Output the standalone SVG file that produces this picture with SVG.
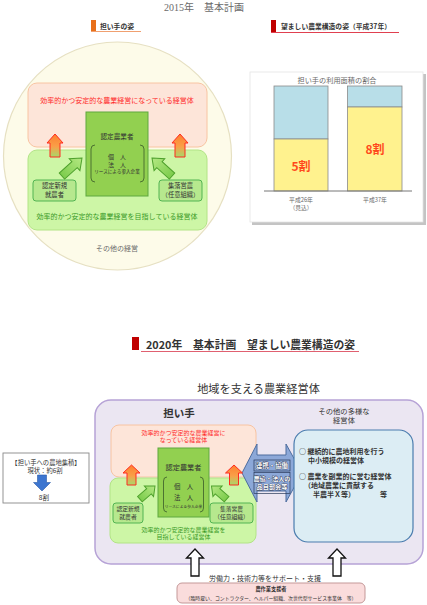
<svg xmlns="http://www.w3.org/2000/svg" width="427" height="605" viewBox="0 0 427 605">
<defs>
<linearGradient id="og" x1="0" y1="0" x2="0" y2="1"><stop offset="0" stop-color="#ff7f30"/><stop offset="0.55" stop-color="#f9a048"/><stop offset="1" stop-color="#a6da6a"/></linearGradient>
<linearGradient id="gg" x1="0" y1="0" x2="0" y2="1"><stop offset="0" stop-color="#b4e882"/><stop offset="1" stop-color="#7ccc4c"/></linearGradient>
<style>
text{font-family:"Noto Sans CJK JP","Noto Sans CJK SC",sans-serif;fill:#333}
.c{text-anchor:middle}
.b{font-weight:bold}
.red{fill:#ff2a2a}
.grn{fill:#3a9a26}
.gry{fill:#6a6a6a}
.oa{fill:url(#og);stroke:#ff2a20;stroke-width:1}
.ga{fill:url(#gg);stroke:#4ea02c;stroke-width:1}
.pink{fill:#fde5d9;stroke:#f8c4a2;stroke-width:1}
.lg{fill:#cdf6a6;stroke:#b2e486;stroke-width:1}
.dg{fill:#92d050;stroke:#5ea83e;stroke-width:1}
.sb{fill:#b6e88e;stroke:#52b452;stroke-width:1}
.br{fill:none;stroke:#3a5a2a;stroke-width:0.8}
.wa{fill:#fff;stroke:#111;stroke-width:1.3}
.ot{fill:#fff;stroke:#1f2d4d;stroke-width:0.7;paint-order:stroke}
</style>
</defs>
<rect width="427" height="605" fill="#fff"/>

<!-- ===== 2015 section ===== -->
<g id="title2015">
<text x="204" y="11" class="c gry" style="font-family:'Liberation Serif','Noto Sans CJK JP',serif;font-size:10px">2015年　基本計画</text>
</g>
<g id="label-ninaite">
<rect x="91" y="20" width="5" height="11" fill="#e8701a"/>
<line x1="91" y1="31.5" x2="141" y2="31.5" stroke="#f0a070" stroke-width="1"/>
<text x="100" y="28.5" class="b" font-size="6.8">担い手の姿</text>
</g>
<g id="label-nozomashii2015">
<rect x="271" y="20" width="5" height="12" fill="#c00000"/>
<line x1="271" y1="32.5" x2="399" y2="32.5" stroke="#e04050" stroke-width="1"/>
<text x="281" y="29" class="b" font-size="6.8">望ましい農業構造の姿（平成37年）</text>
</g>

<g id="circle-sonota">
<circle cx="117.5" cy="156" r="114" fill="#fdfbe9" stroke="#e6e0c2" stroke-width="1.2"/>
<text x="117" y="250.5" class="c gry" font-size="7">その他の経営</text>
</g>
<g id="box-efficient-top">
<rect x="28" y="83" width="179" height="64" rx="9" class="pink"/>
<text x="117" y="102.5" class="c red" font-size="7">効率的かつ安定的な農業経営になっている経営体</text>
</g>
<g id="box-aiming-top">
<rect x="28" y="150" width="179" height="80" rx="9" class="lg"/>
<text x="117" y="218.5" class="c grn" font-size="7">効率的かつ安定的な農業経営を目指している経営体</text>
</g>
<g id="node-nintei-top">
<rect x="86" y="112" width="62" height="84" class="dg"/>
<text x="117" y="138.5" class="c" font-size="6.6">認定農業者</text>
<path class="br" d="M95 145 Q91 145 91 149 L91 178 Q91 182 95 182"/>
<path class="br" d="M140 145 Q144 145 144 149 L144 178 Q144 182 140 182"/>
<text x="117" y="158.5" class="c" font-size="6">個　人</text>
<text x="117" y="166.5" class="c" font-size="6">法　人</text>
<text x="117" y="172.5" class="c" font-size="4.6">リースによる参入企業</text>
</g>
<g id="node-shinki-top">
<rect x="33" y="180" width="43" height="21" rx="3" class="sb"/>
<text x="54.5" y="188" class="c" font-size="6.3">認定新規</text>
<text x="54.5" y="196.5" class="c" font-size="6.3">就農者</text>
</g>
<g id="node-shuraku-top">
<rect x="159" y="180" width="43" height="21" rx="3" class="sb"/>
<text x="180.5" y="188" class="c" font-size="6.3">集落営農</text>
<text x="180.5" y="196.5" class="c" font-size="6.3">（任意組織）</text>
</g>

<g id="chart">
<rect x="252" y="74" width="174" height="151" fill="#c4c4c4"/>
<rect x="250" y="72" width="173" height="150" fill="#fff" stroke="#e4e4e4" stroke-width="0.8"/>
<text x="337" y="82.5" class="c gry" font-size="7.2">担い手の利用面積の割合</text>
<rect x="274" y="86" width="54" height="53" fill="#b8dee8" stroke="#8a8a8a" stroke-width="0.8"/>
<rect x="274" y="139" width="54" height="52" fill="#fff28e" stroke="#8a8a8a" stroke-width="0.8"/>
<rect x="347.5" y="86" width="54.5" height="21" fill="#b8dee8" stroke="#8a8a8a" stroke-width="0.8"/>
<rect x="347.5" y="107" width="54.5" height="84" fill="#fff28e" stroke="#8a8a8a" stroke-width="0.8"/>
<line x1="264" y1="191" x2="412" y2="191" stroke="#777" stroke-width="1"/>
<text x="301" y="171" class="c b" font-size="12" style="fill:#ff4a1c">5割</text>
<text x="375" y="153.5" class="c b" font-size="12" style="fill:#ff4a1c">8割</text>
<text x="301" y="201.5" class="c gry" font-size="5.8">平成26年</text>
<text x="301" y="210" class="c gry" font-size="5.8">（見込）</text>
<text x="375" y="201.5" class="c gry" font-size="5.8">平成37年</text>
</g>

<g id="connectors-top">
<polygon class="oa" points="55,134 63,143 60,143 60,157 50,157 50,143 47,143"/>
<polygon class="oa" points="180,134 188,143 185,143 185,157 175,157 175,143 172,143"/>
<polygon class="ga" transform="translate(82,158) rotate(48)" points="0,0 8,10 4,10 4,27 -4,27 -4,10 -8,10"/>
<polygon class="ga" transform="translate(152,158) rotate(-48)" points="0,0 8,10 4,10 4,27 -4,27 -4,10 -8,10"/>
</g>

<!-- ===== 2020 section ===== -->
<g id="title2020">
<rect x="132" y="337" width="7" height="13" fill="#c00000"/>
<line x1="141" y1="351.5" x2="359" y2="351.5" stroke="#e06070" stroke-width="1"/>
<text x="146" y="348.5" class="b" font-size="10.8">2020年　基本計画　望ましい農業構造の姿</text>
</g>
<g id="subtitle">
<text x="258.5" y="393" class="c" font-size="11.2">地域を支える農業経営体</text>
</g>

<g id="frame">
<rect x="95" y="400" width="328" height="164" rx="16" fill="#ebe6f2" stroke="#b6a2d6" stroke-width="1.5"/>
<text x="179" y="417" class="c b" font-size="10.5">担い手</text>
</g>

<g id="leftbox">
<rect x="3" y="453" width="86" height="50" fill="#fff" stroke="#888" stroke-width="0.9"/>
<text x="46" y="464.5" class="c" font-size="6.3">【担い手への農地集積】</text>
<text x="45" y="472.5" class="c" font-size="6.3">現状：約6割</text>
<polygon points="37.5,475 46.5,475 46.5,482.5 50.5,482.5 42,491 33.5,482.5 37.5,482.5" fill="#3d76d0" stroke="#2a5aa8" stroke-width="0.6"/>
<text x="44" y="499.5" class="c" font-size="6.6">8割</text>
</g>

<g id="box-efficient">
<rect x="111" y="425" width="145" height="52" rx="8" class="pink"/>
<text x="183.5" y="434.5" class="c red" font-size="6">効率的かつ安定的な農業経営に</text>
<text x="183.5" y="442" class="c red" font-size="6">なっている経営体</text>
</g>
<g id="box-aiming">
<rect x="110" y="478" width="146" height="65" rx="8" class="lg"/>
<text x="183.5" y="531.5" class="c grn" font-size="6">効率的かつ安定的な農業経営を</text>
<text x="183.5" y="539" class="c grn" font-size="6">目指している経営体</text>
</g>
<g id="node-nintei">
<rect x="158" y="448" width="51" height="69" class="dg"/>
<text x="183.5" y="469.5" class="c" font-size="7.2">認定農業者</text>
<path class="br" d="M167 477 Q163.5 477 163.5 481 L163.5 508 Q163.5 512 167 512"/>
<path class="br" d="M200 477 Q203.5 477 203.5 481 L203.5 508 Q203.5 512 200 512"/>
<text x="183.5" y="489" class="c" font-size="6.4">個　人</text>
<text x="183.5" y="500" class="c" font-size="6.4">法　人</text>
<text x="183.5" y="507.5" class="c" font-size="3.8">リースによる参入企業</text>
</g>
<g id="node-shinki">
<rect x="113" y="503" width="30" height="20" rx="3" class="sb"/>
<text x="128" y="510.5" class="c" font-size="5.8">認定新規</text>
<text x="128" y="518.5" class="c" font-size="5.8">就農者</text>
</g>
<g id="node-shuraku">
<rect x="210" y="503" width="43" height="20" rx="3" class="sb"/>
<text x="231.5" y="510.5" class="c" font-size="5.8">集落営農</text>
<text x="231.5" y="518.5" class="c" font-size="5.8">（任意組織）</text>
</g>

<g id="node-renkei">
<polygon points="242,473 257,444 257,455 286,455 286,444 302,473 286,502 286,491 257,491 257,502" fill="#8ca8d8" stroke="#4d6d9e" stroke-width="1"/>
<rect x="254" y="460" width="36" height="11" fill="none" stroke="#2a3a5a" stroke-width="0.7"/>
<rect x="254" y="472.5" width="36" height="21" fill="none" stroke="#2a3a5a" stroke-width="0.7"/>
<text x="272" y="468" class="c b ot" font-size="6.4">連携・協働</text>
<text x="272" y="480.5" class="c b ot" font-size="6.2">農協・法人の</text>
<text x="272" y="489" class="c b ot" font-size="6.2">品目部会等</text>
</g>

<g id="node-sonota">
<text x="344" y="413.5" class="c" font-size="7.3">その他の多様な</text>
<text x="344" y="422.5" class="c" font-size="7.3">経営体</text>
<rect x="294" y="430" width="119" height="112" rx="14" fill="#dcedf4" stroke="#4a7cae" stroke-width="1.2"/>
<text x="299" y="454" class="b" font-size="7">○ 継続的に農地利用を行う</text>
<text x="308" y="463" class="b" font-size="7">中小規模の経営体</text>
<text x="299" y="479" class="b" font-size="7">○ 農業を副業的に営む経営体</text>
<text x="304" y="488" class="b" font-size="7">（地域農業に貢献する</text>
<text x="313" y="497" class="b" font-size="7">半農半Ｘ等）</text>
<text x="380" y="497" class="b" font-size="7">等</text>
</g>

<g id="node-support">
<text x="265" y="581" class="c" font-size="7">労働力・技術力等をサポート・支援</text>
<rect x="177" y="583" width="188" height="20" rx="5" fill="#fadcdc" stroke="#c49898" stroke-width="1"/>
<text x="271" y="591" class="c b" font-size="5.2">農作業支援者</text>
<text x="271" y="599.5" class="c" font-size="4.9">（臨時雇い、コントラクター、ヘルパー組織、次世代型サービス事業体　等）</text>
</g>

<g id="connectors">
<polygon class="oa" points="131.5,465 140,473 136,473 136,485 127,485 127,473 123,473"/>
<polygon class="oa" points="234,465 242.5,473 238.5,473 238.5,485 229.5,485 229.5,473 225.5,473"/>
<polygon class="ga" transform="translate(155,486) rotate(49)" points="0,0 7,8 3.5,8 3.5,20 -3.5,20 -3.5,8 -7,8"/>
<polygon class="ga" transform="translate(211.5,486) rotate(-49)" points="0,0 7,8 3.5,8 3.5,20 -3.5,20 -3.5,8 -7,8"/>
<polygon class="wa" points="195,549 203.5,558 199,558 199,576 191,576 191,558 186.5,558"/>
<polygon class="wa" points="337,549 345.5,558 341,558 341,576 333,576 333,558 328.5,558"/>
</g>
</svg>
